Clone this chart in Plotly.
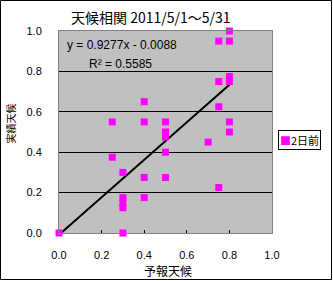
import plotly.graph_objects as go

forecast = [0.0, 0.3, 0.3, 0.3, 0.3, 0.3, 0.25, 0.25, 0.4, 0.4, 0.4, 0.4,
            0.5, 0.5, 0.5, 0.5, 0.5, 0.7, 0.75, 0.75, 0.75, 0.75,
            0.8, 0.8, 0.8, 0.8, 0.8, 0.8]
actual = [0.0, 0.0, 0.175, 0.15, 0.125, 0.3, 0.375, 0.55, 0.65, 0.55, 0.275, 0.175,
          0.55, 0.5, 0.475, 0.4, 0.275, 0.45, 0.225, 0.95, 0.75, 0.625,
          1.0, 0.95, 0.775, 0.75, 0.55, 0.5]
slope = 0.9277
intercept = -0.0088
r2 = 0.5585
trend_x = [0.0, 0.8]
tick_vals = [0.0, 0.2, 0.4, 0.6, 0.8, 1.0]
series_name = "2日前"

W, H = 333, 281
L, R, T, B = 59, 61, 31, 48
pw, ph = W - L - R, H - T - B

jp = "Noto Sans CJK JP"
num = "Liberation Sans"

fig = go.Figure()
fig.add_trace(go.Scatter(
    x=trend_x, y=[slope * v + intercept for v in trend_x],
    mode="lines", line=dict(color="black", width=2), showlegend=False,
    hoverinfo="skip"))
fig.add_trace(go.Scatter(
    x=forecast, y=actual, mode="markers", name=series_name, showlegend=False,
    cliponaxis=False,
    marker=dict(symbol="square", size=7, color="#FF00FF", line=dict(width=0))))

fig.update_layout(
    width=W, height=H,
    margin=dict(l=L, r=R, t=T, b=B, autoexpand=False),
    paper_bgcolor="white", plot_bgcolor="#C0C0C0",
    font=dict(family=num, size=11, color="black"),
    showlegend=False,
)
fig.update_xaxes(range=[0, 1], tickvals=tick_vals, tickformat=".1f",
                 showgrid=False, zeroline=False, automargin=False,
                 showline=True, linecolor="#808080", linewidth=1, mirror=True,
                 ticks="inside", ticklen=3, tickcolor="black",
                 ticklabelstandoff=12)
fig.update_yaxes(range=[0, 1], tickvals=tick_vals, tickformat=".1f",
                 showgrid=True, gridcolor="black", gridwidth=1, zeroline=False,
                 automargin=False,
                 showline=True, linecolor="#808080", linewidth=1, mirror=True,
                 ticks="", ticklabelstandoff=14)

def px_x(p):
    return (p - L) / pw

def px_y(p):
    return 1 - (p - T) / ph

# chart title
fig.add_annotation(x=px_x(151), y=px_y(17.5), xref="paper", yref="paper",
                   text="天候相関 2011/5/1～5/31", showarrow=False,
                   xanchor="center", yanchor="middle",
                   font=dict(family=jp, size=14))

# axis titles
fig.add_annotation(x=px_x(167.5), y=px_y(270), xref="paper", yref="paper",
                   text="予報天候", showarrow=False, xanchor="center", yanchor="middle",
                   font=dict(family=jp, size=12))
fig.add_annotation(x=px_x(9.5), y=px_y(124), xref="paper", yref="paper",
                   text="実績天候", showarrow=False, xanchor="center", yanchor="middle",
                   textangle=-90, font=dict(family=jp, size=10))

# regression text
fig.add_annotation(x=px_x(65), y=px_y(45), xref="paper", yref="paper",
                   text=f"y = {slope}x - {abs(intercept):.4f}", showarrow=False,
                   xanchor="left", yanchor="middle", font=dict(family=num, size=12))
fig.add_annotation(x=px_x(87), y=px_y(64), xref="paper", yref="paper",
                   text=f"R² = {r2}", showarrow=False,
                   xanchor="left", yanchor="middle", font=dict(family=num, size=12))

# legend box
fig.add_annotation(x=px_x(299.5), y=px_y(139.5), xref="paper", yref="paper",
                   text=f"<span style='color:#FF00FF'>■</span>{series_name}",
                   showarrow=False, xanchor="center", yanchor="middle",
                   bgcolor="white", bordercolor="black", borderwidth=1, borderpad=1,
                   font=dict(family=jp, size=11))

# outer chart border
fig.add_shape(type="rect", xref="paper", yref="paper",
              x0=px_x(0.5), x1=px_x(W - 1.5),
              y0=px_y(H - 1.5), y1=px_y(0.5),
              line=dict(color="black", width=1), layer="below")

fig.write_html("out.html")
